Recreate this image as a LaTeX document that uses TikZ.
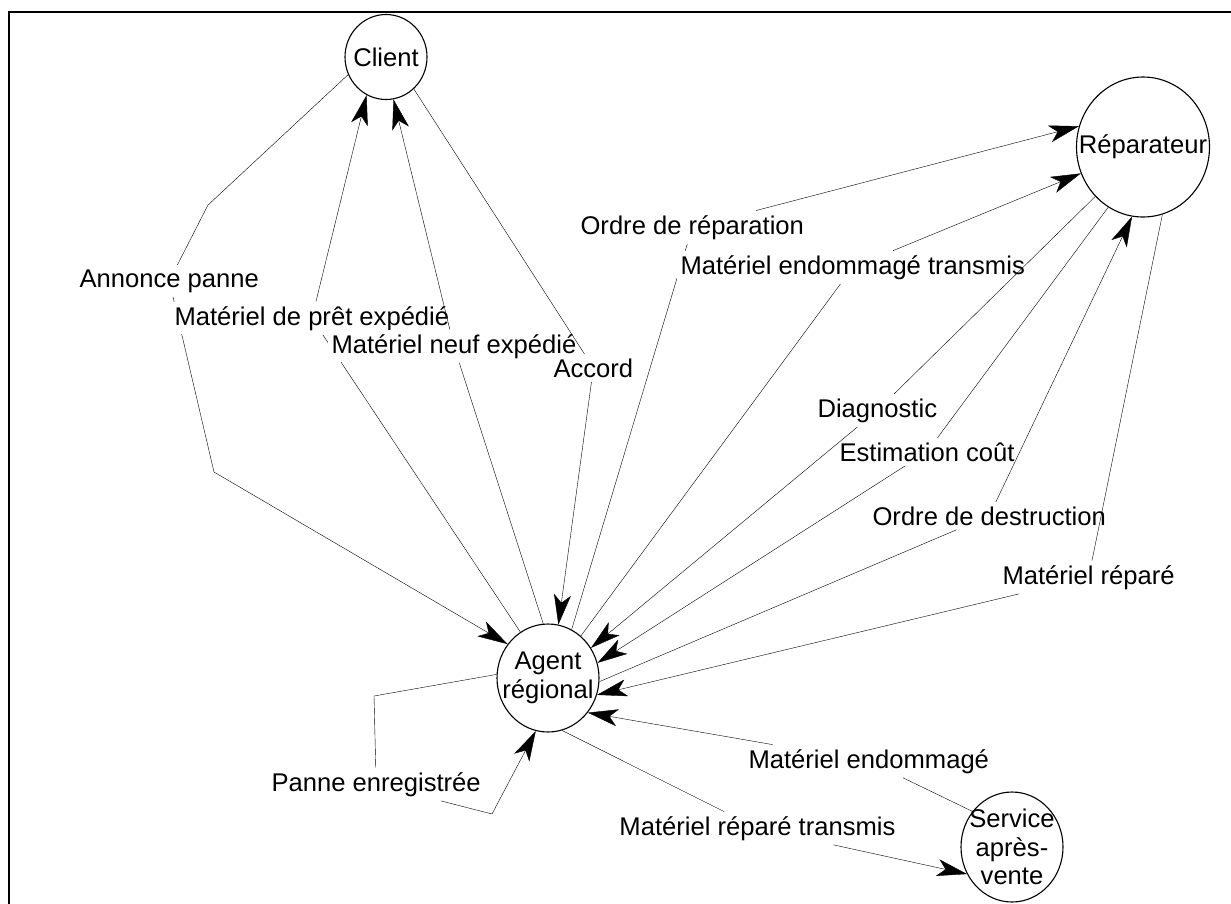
\documentclass[tikz,border=0pt]{standalone}
\usepackage{fontspec}
\setmainfont{Liberation Sans}
\usetikzlibrary{arrows.meta,shapes.geometric,backgrounds}

\begin{document}
\begin{tikzpicture}[x=1pt,y=-1pt,
    font=\fontsize{25.6pt}{28.5pt}\selectfont,
    line width=1.1pt,
    actor/.style={ellipse,draw,inner sep=0pt},
    lbl/.style={anchor=base west,inner sep=4pt,fill=white},
    flow/.style={-{Stealth[length=30pt,width=17pt,inset=8pt]}},
    frame/.style={line width=2.6pt}]
    \useasboundingbox (0,0) rectangle (1231,903);
    \draw[frame] (9,930) -- (9,12) -- (1250,12);

    \node[actor,minimum width=82pt,minimum height=85pt,
            label=center:Client] (client) at (386,57)
            {};
    \node[actor,minimum width=133pt,minimum height=140pt,
            label=center:Réparateur] (rep) at (1143,147)
            {};
    \node[actor,minimum width=102pt,minimum height=108pt,
            label={[align=center]center:Agent\\régional}] (agent) at (548,678)
            {};
    \node[actor,minimum width=102pt,minimum height=110pt,
            label={[align=center]center:Service\\après-\\vente}] (sav) at (1012,847)
            {};

    \node[lbl] (annonce) at (75,287)
            {Annonce panne};
    \node[lbl] (pret) at (170,325)
            {Matériel de prêt expédié};
    \node[lbl] (neuf) at (327,353)
            {Matériel neuf expédié};
    \node[lbl] (accord) at (549,377)
            {Accord};
    \node[lbl] (ordrerep) at (576,234)
            {Ordre de réparation};
    \node[lbl] (transmis) at (676,274)
            {Matériel endommagé transmis};
    \node[lbl] (diag) at (813,417)
            {Diagnostic};
    \node[lbl] (estim) at (835,461)
            {Estimation coût};
    \node[lbl] (destr) at (868,525)
            {Ordre de destruction};
    \node[lbl] (repare) at (998,584)
            {Matériel réparé};
    \node[lbl] (endo) at (744,768)
            {Matériel endommagé};
    \node[lbl,anchor=base east] (reptr) at (900,835)
            {Matériel réparé transmis};
    \node[lbl] (panne) at (267,791)
            {Panne enregistrée};

    \coordinate (ab1) at (208,205);
    \coordinate (ab2) at (214,472);
    \coordinate (pb1) at (374,696);
    \coordinate (pb2) at (492,814);

    \begin{pgfonlayer}{background}
    \draw (client.205) -- (ab1) -- (annonce);
    \draw[flow] (annonce) -- (ab2) -- (agent.140);
    \draw (agent.121) -- (pret);
    \draw (agent.64) -- (ordrerep);
    \end{pgfonlayer}

    \draw[flow] (pret) -- (client.243);
    \draw (agent.95) -- (neuf);
    \draw[flow] (neuf) -- (client.280);
    \draw (client.311) -- (accord);
    \draw[flow] (accord) -- (agent.79);
    \draw[flow] (ordrerep) -- (rep.162);
    \draw (agent.52) -- (transmis);
    \draw[flow] (transmis) -- (rep.203);
    \draw (rep.226) -- (diag);
    \draw[flow] (diag) -- (agent.35);
    \draw (rep.240) -- (estim);
    \draw[flow] (estim) -- (agent.17);
    \draw (agent.356) -- (destr);
    \draw[flow] (destr) -- (rep.261);
    \draw (rep.286) -- (repare);
    \draw[flow] (repare) -- (agent.341);
    \draw (sav.138) -- (endo);
    \draw[flow] (endo) -- (agent.319);
    \draw (agent.285) -- (reptr);
    \draw[flow] (reptr) -- (sav.211);
    \draw (agent.176) -- (pb1) -- (panne);
    \draw[flow] (panne) -- (pb2) -- (agent.257);
\end{tikzpicture}
\end{document}
